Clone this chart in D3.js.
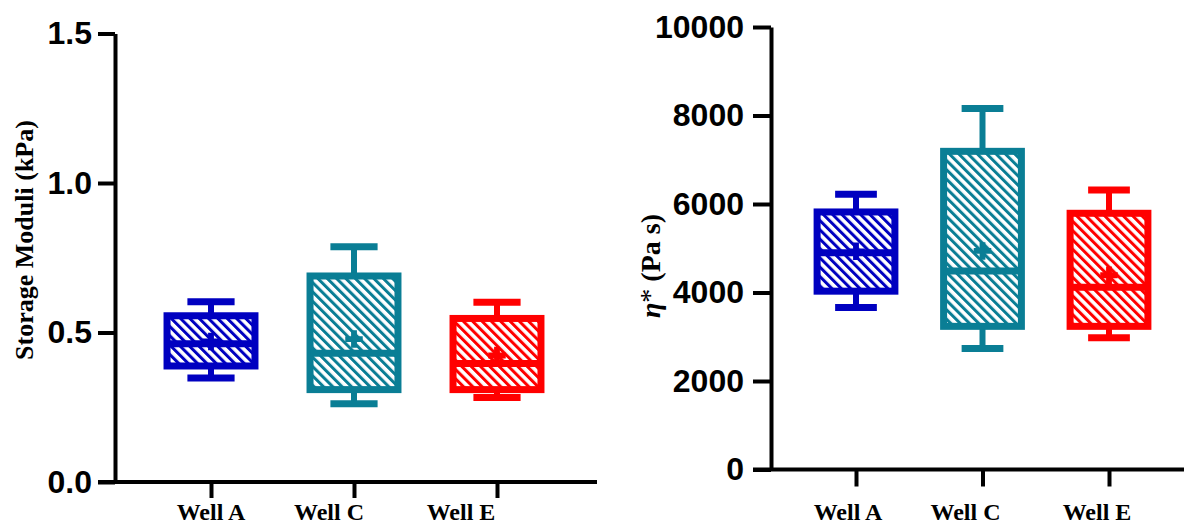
<!DOCTYPE html>
<html>
<head>
<meta charset="utf-8">
<script src="https://cdn.jsdelivr.net/npm/d3@7"></script>
<style>
  html, body { margin: 0; padding: 0; background: #fff; }
  svg { display: block; }
</style>
</head>
<body>
<svg id="chart" width="1184" height="527"></svg>
<script>
// ---------- data ----------
const categories = ["Well A", "Well C", "Well E"];
const seriesColors = ["#0000c0", "#0a7e95", "#ff0000"];

// Left panel: Storage Moduli (kPa)
const gTicks = [0, 0.5, 1.0, 1.5];
const gWhiskerLow  = [0.348, 0.262, 0.283];
const gQ1          = [0.388, 0.309, 0.309];
const gMedian      = [0.462, 0.431, 0.396];
const gQ3          = [0.556, 0.689, 0.547];
const gWhiskerHigh = [0.603, 0.787, 0.601];
const gMean        = [0.470, 0.478, 0.423];

// Right panel: complex viscosity eta* (Pa s)
const eTicks = [0, 2000, 4000, 6000, 8000, 10000];
const eWhiskerLow  = [3660, 2735, 2977];
const eQ1          = [4030, 3235, 3235];
const eMedian      = [4900, 4485, 4121];
const eQ3          = [5820, 7190, 5790];
const eWhiskerHigh = [6220, 8160, 6318];
const eMean        = [4930, 4940, 4390];

// ---------- layout ----------
const svg = d3.select("#chart");
const defs = svg.append("defs");
seriesColors.forEach((c, i) => {
  const p = defs.append("pattern")
    .attr("id", "hatch" + i)
    .attr("patternUnits", "userSpaceOnUse")
    .attr("width", 6.6).attr("height", 6.6)
    .attr("patternTransform", "rotate(-45)");
  p.append("rect").attr("width", 6.6).attr("height", 6.6).attr("fill", "#fff");
  p.append("line").attr("x1", 1.5).attr("y1", -1).attr("x2", 1.5).attr("y2", 8)
    .attr("stroke", c).attr("stroke-width", 3);
});

function panel(cfg) {
  const g = svg.append("g");
  const y = d3.scaleLinear().domain([0, cfg.max]).range([cfg.y0, cfg.y1]);
  const x = d3.scalePoint().domain(categories).range([cfg.xFirst, cfg.xLast]);
  const step = x.step();
  const boxW = step * 0.615;
  const capW = step * 0.33;

  // y axis
  const ya = d3.axisLeft(y).tickValues(cfg.ticks).tickFormat(cfg.fmt)
    .tickSize(cfg.tickLen).tickSizeOuter(0).tickPadding(cfg.tickPad);
  const yg = g.append("g").attr("transform", `translate(${cfg.axisX},0)`).call(ya);
  yg.select(".domain").attr("stroke", "#000").attr("stroke-width", 4);
  yg.selectAll(".tick line").attr("stroke", "#000").attr("stroke-width", 4);
  yg.selectAll(".tick text")
    .attr("font-family", "'Liberation Sans', Arial, sans-serif")
    .attr("font-weight", "bold").attr("font-size", 32).attr("fill", "#000");

  // x axis baseline
  g.append("line").attr("x1", cfg.axisX - cfg.tickLen).attr("x2", cfg.xEnd)
    .attr("y1", y(0)).attr("y2", y(0))
    .attr("stroke", "#000").attr("stroke-width", 4);
  const xa = d3.axisBottom(x).tickSize(cfg.xTickLen).tickSizeOuter(0).tickFormat("");
  const xg = g.append("g").attr("transform", `translate(0,${y(0)})`).call(xa);
  xg.select(".domain").remove();
  xg.selectAll(".tick line").attr("stroke", "#000").attr("stroke-width", 4);

  // category labels
  g.selectAll(".xl").data(categories).join("text")
    .attr("x", (d, i) => x(d) + cfg.labelShift[i])
    .attr("y", cfg.labelY)
    .attr("text-anchor", "middle")
    .attr("font-family", "'Liberation Serif', 'Times New Roman', serif")
    .attr("font-weight", "bold").attr("font-size", 24).attr("fill", "#000")
    .text(d => d);

  // boxes
  categories.forEach((c, i) => {
    const cx = x(c);
    const col = seriesColors[i];
    g.append("line").attr("x1", cx).attr("x2", cx)
      .attr("y1", y(cfg.q3[i])).attr("y2", y(cfg.hi[i]))
      .attr("stroke", col).attr("stroke-width", 6);
    g.append("line").attr("x1", cx).attr("x2", cx)
      .attr("y1", y(cfg.q1[i])).attr("y2", y(cfg.lo[i]))
      .attr("stroke", col).attr("stroke-width", 6);
    g.append("line").attr("x1", cx - capW / 2).attr("x2", cx + capW / 2)
      .attr("y1", y(cfg.hi[i])).attr("y2", y(cfg.hi[i]))
      .attr("stroke", col).attr("stroke-width", 7);
    g.append("line").attr("x1", cx - capW / 2).attr("x2", cx + capW / 2)
      .attr("y1", y(cfg.lo[i])).attr("y2", y(cfg.lo[i]))
      .attr("stroke", col).attr("stroke-width", 7);
    g.append("rect").attr("x", cx - boxW / 2).attr("width", boxW)
      .attr("y", y(cfg.q3[i])).attr("height", y(cfg.q1[i]) - y(cfg.q3[i]))
      .attr("fill", `url(#hatch${i})`)
      .attr("stroke", col).attr("stroke-width", 7);
    g.append("line").attr("x1", cx - boxW / 2).attr("x2", cx + boxW / 2)
      .attr("y1", y(cfg.med[i])).attr("y2", y(cfg.med[i]))
      .attr("stroke", col).attr("stroke-width", 7);
    g.append("path").attr("d", d3.symbol(d3.symbolCross, 170)())
      .attr("transform", `translate(${cx},${y(cfg.mean[i])})`)
      .attr("fill", col);
  });

  // y title
  const t = g.append("text")
    .attr("transform", `translate(${cfg.titleX},${cfg.titleY}) rotate(-90)`)
    .attr("text-anchor", "middle")
    .attr("font-family", "'Liberation Serif', 'Times New Roman', serif")
    .attr("font-weight", "bold").attr("font-size", cfg.titleSize).attr("fill", "#000");
  cfg.title(t);
}

panel({
  max: 1.5, y0: 482, y1: 33.5, ticks: gTicks, fmt: d3.format(".1f"),
  axisX: 115, tickLen: 17, tickPad: 6, xTickLen: 16,
  xFirst: 211, xLast: 497, xEnd: 597, labelY: 520, labelShift: [0, -25, -36],
  lo: gWhiskerLow, q1: gQ1, med: gMedian, q3: gQ3, hi: gWhiskerHigh, mean: gMean,
  titleX: 33, titleY: 240, titleSize: 26,
  title: t => t.text("Storage Moduli (kPa)")
});

panel({
  max: 10000, y0: 469.5, y1: 27, ticks: eTicks, fmt: d3.format("d"),
  axisX: 771, tickLen: 18, tickPad: 9, xTickLen: 17,
  xFirst: 856, xLast: 1109, xEnd: 1184, labelY: 520, labelShift: [-8, -17, -12],
  lo: eWhiskerLow, q1: eQ1, med: eMedian, q3: eQ3, hi: eWhiskerHigh, mean: eMean,
  titleX: 660, titleY: 266, titleSize: 28,
  title: t => {
    t.append("tspan").attr("font-style", "italic").text("η");
    t.append("tspan").attr("font-weight", "normal").attr("dy", -1).text("*");
    t.append("tspan").attr("dy", 1).text(" (Pa s)");
  }
});
</script>
</body>
</html>
